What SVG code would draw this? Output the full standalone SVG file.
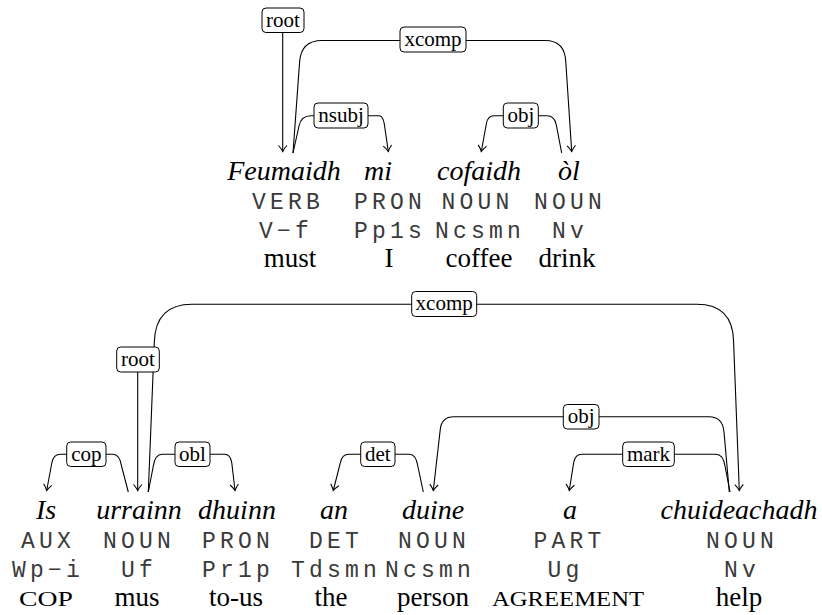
<svg xmlns="http://www.w3.org/2000/svg" width="822" height="615" viewBox="0 0 822 615">
<style>
.w{font-family:"Liberation Serif","Times New Roman",serif;font-style:italic;font-size:28px;text-anchor:middle;fill:#000}
.p{font-family:"Liberation Mono","Courier New",monospace;font-size:23px;letter-spacing:4.2px;text-anchor:middle;fill:#3a3a3a}
.g{font-family:"Liberation Serif","Times New Roman",serif;font-size:27px;text-anchor:middle;fill:#000}
.sc{font-family:"Liberation Serif","Times New Roman",serif;font-size:21px;text-anchor:middle;fill:#000}
.e{fill:none;stroke:#000;stroke-width:1.1}
.a{marker-end:url(#to)}
.lb rect{fill:#fff;stroke:#000;stroke-width:1}
.lb text{font-family:"Liberation Serif","Times New Roman",serif;font-size:21px;text-anchor:middle;fill:#000}
</style>
<defs>
<marker id="to" markerUnits="userSpaceOnUse" viewBox="-8 -6 10 12" refX="0" refY="0" markerWidth="10" markerHeight="12" orient="auto">
<path d="M-6,-4.2 C-4,-2.4 -1.6,-0.8 0,0 C-1.6,0.8 -4,2.4 -6,4.2" fill="none" stroke="#000" stroke-width="1.1"/>
</marker>
</defs>

<g id="connectors">
  <!-- top sentence -->
  <g id="e-root1"><path class="e a" d="M282.7,32.5 L282.7,151.5"/>
    <g class="lb"><rect x="262" y="8" width="42" height="24.5" rx="4"/><text x="283" y="26.5">root</text></g></g>
  <g id="e-xcomp1"><path class="e a" d="M293,153 L299.6,62 Q301,40.5 322,40.5 L545,40.5 Q565,40.5 565.8,62 L571.7,151.5"/>
    <g class="lb"><rect x="400" y="27" width="66" height="25" rx="4"/><text x="433" y="45.5">xcomp</text></g></g>
  <g id="e-nsubj1"><path class="e a" d="M293,153 L299,126 Q301,115.7 311,115.7 L379,115.7 Q383,115.7 384.3,124 L388.3,151.5"/>
    <g class="lb"><rect x="314" y="103" width="54" height="25" rx="4"/><text x="341" y="121.5">nsubj</text></g></g>
  <g id="e-obj1"><path class="e a" d="M561.7,153 L556.3,125 Q554.6,115.7 547,115.7 L494,115.7 Q487.5,115.7 486.3,124 L481.3,151.5"/>
    <g class="lb"><rect x="503.3" y="103" width="35" height="25" rx="4"/><text x="520.8" y="121.5">obj</text></g></g>

  <!-- bottom sentence -->
  <g id="e-xcomp2"><path class="e a" d="M148.3,492 L154.3,342 Q155.5,304.3 192,304.3 L696.7,304.3 Q733,304.3 733.6,341.7 L739.3,490.5"/>
    <g class="lb"><rect x="411.7" y="291.5" width="65" height="25" rx="4"/><text x="444.2" y="310">xcomp</text></g></g>
  <g id="e-root2"><path class="e a" d="M137.7,372 L137.7,490.5"/>
    <g class="lb"><rect x="116.7" y="347" width="42.6" height="25" rx="4"/><text x="138" y="365.5">root</text></g></g>
  <g id="e-cop2"><path class="e a" d="M128.3,492 L121.5,466 Q119.5,454.3 113,454.3 L60.5,454.3 Q53.3,454.3 51.8,463 L46.7,490.5"/>
    <g class="lb"><rect x="66.7" y="442" width="39.3" height="24.5" rx="4"/><text x="86.3" y="460.5">cop</text></g></g>
  <g id="e-obl2"><path class="e a" d="M148.3,492 L153.3,466 Q155.3,454.3 162,454.3 L224.5,454.3 Q230.5,454.3 231.8,463 L235,490.5"/>
    <g class="lb"><rect x="175" y="442" width="35" height="24.5" rx="4"/><text x="192.5" y="460.5">obl</text></g></g>
  <g id="e-det2"><path class="e a" d="M423.3,492 L417.8,466 Q415.8,454.3 409.5,454.3 L349,454.3 Q341.8,454.3 340.3,463 L333.3,490.5"/>
    <g class="lb"><rect x="360.7" y="442" width="34.3" height="24.5" rx="4"/><text x="377.8" y="460.5">det</text></g></g>
  <g id="e-obj2"><path class="e a" d="M729.3,492 L724,432 Q722.8,416.7 709,416.7 L454,416.7 Q441.2,416.7 440.2,430 L433.3,490.5"/>
    <g class="lb"><rect x="563.3" y="404.5" width="35.7" height="24.5" rx="4"/><text x="581.2" y="423">obj</text></g></g>
  <g id="e-mark2"><path class="e a" d="M730,492 L725,466 Q723,454.3 716,454.3 L582,454.3 Q575,454.3 573.6,463 L569.3,490.5"/>
    <g class="lb"><rect x="622.7" y="442" width="51.6" height="24.5" rx="4"/><text x="648.5" y="460.5">mark</text></g></g>
</g>

<!-- top sentence tokens -->
<g id="t1-Feumaidh"><text class="w" x="284" y="180">Feumaidh</text><text class="p" x="288" y="209">VERB</text><text class="p" x="286" y="238">V−f</text><text class="g" x="290" y="267">must</text></g>
<g id="t1-mi"><text class="w" x="378" y="180">mi</text><text class="p" x="390" y="209">PRON</text><text class="p" x="390" y="238">Pp1s</text><text class="g" x="389" y="267">I</text></g>
<g id="t1-cofaidh"><text class="w" x="479" y="180">cofaidh</text><text class="p" x="477.5" y="209">NOUN</text><text class="p" x="480" y="238">Ncsmn</text><text class="g" x="479" y="267">coffee</text></g>
<g id="t1-ol"><text class="w" x="569" y="180">òl</text><text class="p" x="570" y="209">NOUN</text><text class="p" x="570" y="238">Nv</text><text class="g" x="567" y="267">drink</text></g>

<!-- bottom sentence tokens -->
<g id="t2-Is"><text class="w" x="46" y="519">Is</text><text class="p" x="48" y="548">AUX</text><text class="p" x="48" y="577">Wp−i</text><text class="sc" x="46" y="606" textLength="54" lengthAdjust="spacingAndGlyphs">COP</text></g>
<g id="t2-urrainn"><text class="w" x="139" y="519">urrainn</text><text class="p" x="139" y="548">NOUN</text><text class="p" x="139" y="577">Uf</text><text class="g" x="137" y="606">mus</text></g>
<g id="t2-dhuinn"><text class="w" x="237" y="519">dhuinn</text><text class="p" x="238" y="548">PRON</text><text class="p" x="238" y="577">Pr1p</text><text class="g" x="236" y="606">to-us</text></g>
<g id="t2-an"><text class="w" x="334" y="519">an</text><text class="p" x="336" y="548">DET</text><text class="p" x="336" y="577">Tdsmn</text><text class="g" x="331" y="606">the</text></g>
<g id="t2-duine"><text class="w" x="433" y="519">duine</text><text class="p" x="434" y="548">NOUN</text><text class="p" x="430" y="577">Ncsmn</text><text class="g" x="433" y="606">person</text></g>
<g id="t2-a"><text class="w" x="570" y="519">a</text><text class="p" x="569.5" y="548">PART</text><text class="p" x="565.5" y="577">Ug</text><text class="sc" x="568" y="606" textLength="152" lengthAdjust="spacingAndGlyphs">AGREEMENT</text></g>
<g id="t2-chuideachadh"><text class="w" x="739" y="519">chuideachadh</text><text class="p" x="742" y="548">NOUN</text><text class="p" x="742" y="577">Nv</text><text class="g" x="739" y="606">help</text></g>
</svg>
